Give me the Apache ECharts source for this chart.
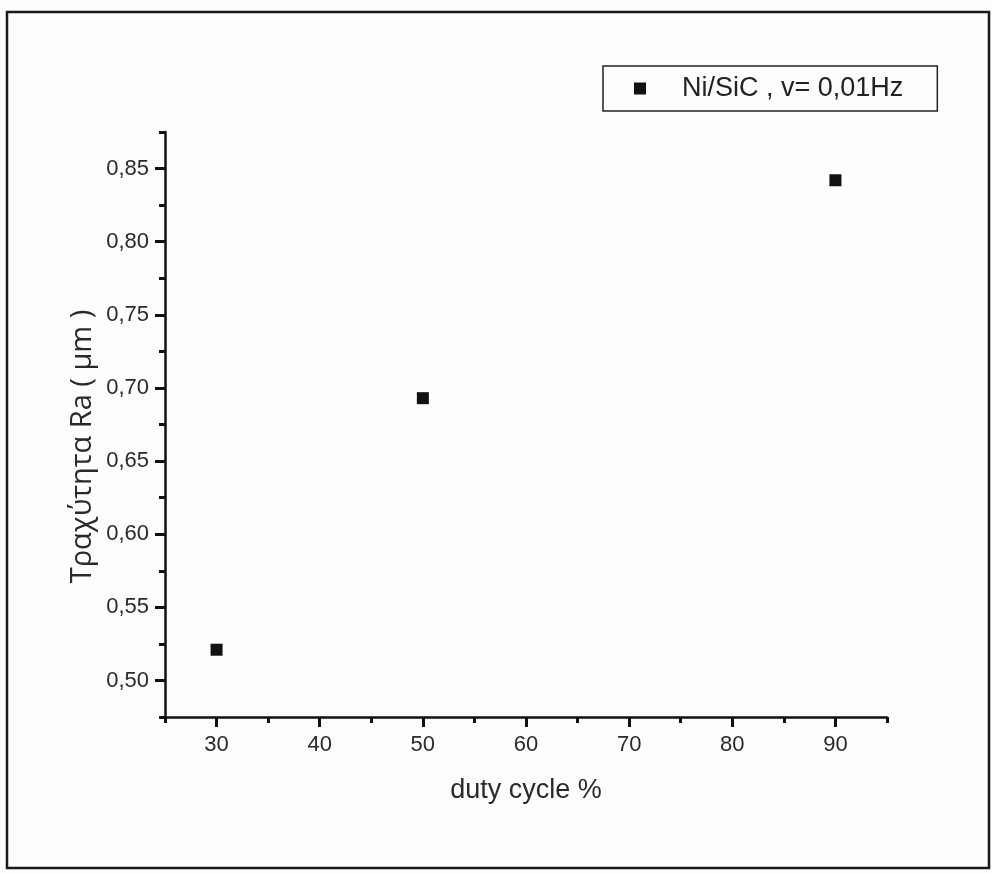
<!DOCTYPE html>
<html lang="el">
<head>
    <meta charset="UTF-8">
    <title>Ra vs duty cycle</title>
    <script src="https://cdn.jsdelivr.net/npm/echarts@6/dist/echarts.min.js"></script>
    <style>
        html, body { margin: 0; padding: 0; background: #fdfdfd; }
    </style>
</head>
<body>
    <div id="main" style="width: 992px; height: 874px;"></div>

    <script type="text/javascript">
        // values
        let dutyCycle = [30, 50, 90]
        let roughness = [0.521, 0.693, 0.842]
        let seriesName = 'Ni/SiC , v= 0,01Hz'

        let xMajor = [30, 40, 50, 60, 70, 80, 90]
        let xMinor = [25, 35, 45, 55, 65, 75, 85, 95]
        let yMajor = [0.50, 0.55, 0.60, 0.65, 0.70, 0.75, 0.80, 0.85]
        let yMinor = [0.475, 0.525, 0.575, 0.625, 0.675, 0.725, 0.775, 0.825, 0.875]

        let points = dutyCycle.map((d, i) => [d, roughness[i]])

        let labelFont = { color: '#2a2a2a', fontSize: 22, fontFamily: 'Liberation Sans' }

        let options = {
            backgroundColor: '#fdfdfd',
            animation: false,
            grid: { left: 165, right: 105, top: 132, bottom: 157 },
            legend: {
                left: 603, top: 66,
                padding: [9, 34, 9, 31],
                borderColor: '#222', borderWidth: 1.5,
                itemWidth: 12, itemHeight: 12,
                icon: 'rect',
                itemStyle: { opacity: 1 },
                textStyle: { color: '#222', fontSize: 27, fontFamily: 'Liberation Sans', padding: [0, 0, 0, 31] },
                data: [seriesName]
            },
            xAxis: [{
                type: 'value', min: 25, max: 95,
                name: 'duty cycle %', nameLocation: 'middle', nameGap: 60,
                nameTextStyle: { color: '#2a2a2a', fontSize: 27, fontFamily: 'Liberation Sans' },
                axisLine: { lineStyle: { color: '#111', width: 2.5 } },
                axisTick: { customValues: xMajor, length: 10, lineStyle: { width: 3, color: '#111' } },
                axisLabel: Object.assign({ customValues: xMajor, margin: 17,
                    formatter: v => String(v) }, labelFont),
                splitLine: { show: false }
            }, {
                type: 'value', min: 25, max: 95, position: 'bottom',
                axisLine: { show: false },
                axisTick: { customValues: xMinor, length: 6, lineStyle: { width: 3, color: '#111' } },
                axisLabel: { show: false },
                splitLine: { show: false }
            }],
            yAxis: [{
                type: 'value', min: 0.475, max: 0.875,
                name: 'Τραχύτητα Ra ( μm )', nameLocation: 'middle', nameGap: 68,
                nameMoveOverlap: false,
                nameTextStyle: { color: '#2a2a2a', fontSize: 29, fontFamily: 'Open Sans', padding: [0, 44, 0, 0] },
                axisLine: { lineStyle: { color: '#111', width: 2.5 } },
                axisTick: { customValues: yMajor, length: 10, lineStyle: { width: 3, color: '#111' } },
                axisLabel: Object.assign({ customValues: yMajor, margin: 16,
                    formatter: v => v.toFixed(2).replace('.', ',') }, labelFont),
                splitLine: { show: false }
            }, {
                type: 'value', min: 0.475, max: 0.875, position: 'left',
                axisLine: { show: false },
                axisTick: { customValues: yMinor, length: 6, lineStyle: { width: 3, color: '#111' } },
                axisLabel: { show: false },
                splitLine: { show: false }
            }],
            graphic: [{
                type: 'rect', silent: true,
                shape: { x: 7, y: 12, width: 982, height: 856 },
                style: { fill: null, stroke: '#1a1a1a', lineWidth: 2.5 }
            }],
            series: [{
                name: seriesName,
                type: 'scatter',
                symbol: 'rect',
                symbolSize: 12,
                itemStyle: { color: '#111', opacity: 1 },
                data: points
            }]
        }

        let myChart = echarts.init(document.getElementById('main'))
        myChart.setOption(options)
    </script>
</body>
</html>
